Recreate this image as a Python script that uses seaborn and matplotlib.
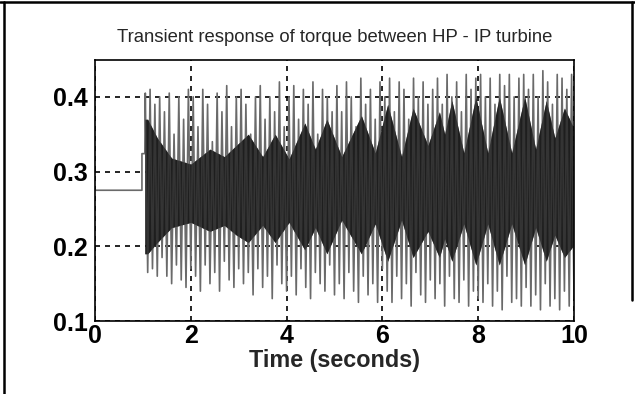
import numpy as np
import matplotlib
matplotlib.use("Agg")
import matplotlib.pyplot as plt
import seaborn as sns
from matplotlib.lines import Line2D

# ---------------- data ----------------
# steady state before the disturbance
pre_t = [0.0, 0.98, 0.98, 1.04]
pre_y = [0.275, 0.275, 0.324, 0.324]

# dense dark band (inner envelope of the fast oscillation)
band_t = [1.04, 1.10, 1.30, 1.60, 2.00, 2.40, 2.70, 2.95, 3.20, 3.50, 3.76, 4.05,
          4.38, 4.60, 4.84, 5.15, 5.56, 5.85, 6.11, 6.40, 6.64, 6.95, 7.19, 7.30,
          7.45, 7.70, 7.95, 8.20, 8.44, 8.70, 8.97, 9.20, 9.42, 9.60, 9.80, 9.98]
band_hi = [0.37, 0.37, 0.345, 0.318, 0.31, 0.33, 0.32, 0.335, 0.35, 0.32, 0.35, 0.317,
           0.365, 0.33, 0.37, 0.32, 0.375, 0.325, 0.39, 0.32, 0.385, 0.335, 0.38, 0.35,
           0.395, 0.325, 0.40, 0.325, 0.40, 0.325, 0.40, 0.33, 0.395, 0.345, 0.385, 0.36]
band_lo = [0.19, 0.19, 0.205, 0.225, 0.232, 0.22, 0.228, 0.215, 0.205, 0.228, 0.205, 0.232,
           0.195, 0.225, 0.19, 0.235, 0.19, 0.23, 0.18, 0.235, 0.185, 0.22, 0.185, 0.21,
           0.18, 0.23, 0.175, 0.23, 0.175, 0.23, 0.175, 0.225, 0.18, 0.215, 0.185, 0.20]

# individual spikes: upper peaks and lower troughs (about ten per second)
peak_hi = [0.405, 0.41, 0.39, 0.40, 0.38, 0.405, 0.35, 0.40, 0.37, 0.41,
           0.40, 0.36, 0.41, 0.39, 0.34, 0.405, 0.38, 0.415, 0.36, 0.40,
           0.41, 0.39, 0.35, 0.40, 0.415, 0.37, 0.40, 0.38, 0.42, 0.36,
           0.40, 0.415, 0.37, 0.41, 0.39, 0.42, 0.35, 0.41, 0.40, 0.38,
           0.415, 0.38, 0.42, 0.40, 0.36, 0.425, 0.39, 0.41, 0.37, 0.42,
           0.40, 0.425, 0.38, 0.42, 0.41, 0.37, 0.425, 0.40, 0.42, 0.39,
           0.41, 0.425, 0.39, 0.43, 0.40, 0.42, 0.38, 0.43, 0.41, 0.425,
           0.43, 0.40, 0.425, 0.39, 0.43, 0.415, 0.43, 0.40, 0.425, 0.43,
           0.41, 0.43, 0.40, 0.435, 0.42, 0.39, 0.43, 0.425, 0.41, 0.43]
peak_lo = [0.165, 0.17, 0.16, 0.185, 0.16, 0.15, 0.175, 0.155, 0.145, 0.17,
           0.16, 0.14, 0.175, 0.15, 0.165, 0.14, 0.18, 0.155, 0.145, 0.17,
           0.15, 0.165, 0.135, 0.17, 0.145, 0.16, 0.13, 0.175, 0.15, 0.14,
           0.16, 0.135, 0.17, 0.145, 0.13, 0.165, 0.15, 0.14, 0.175, 0.135,
           0.15, 0.13, 0.165, 0.14, 0.125, 0.16, 0.135, 0.15, 0.125, 0.17,
           0.14, 0.125, 0.16, 0.13, 0.15, 0.12, 0.165, 0.135, 0.125, 0.155,
           0.13, 0.15, 0.12, 0.16, 0.13, 0.125, 0.155, 0.12, 0.14, 0.13,
           0.125, 0.15, 0.12, 0.14, 0.115, 0.16, 0.125, 0.13, 0.12, 0.145,
           0.12, 0.135, 0.115, 0.15, 0.12, 0.13, 0.115, 0.14, 0.12, 0.13]

x_ticks = [0, 2, 4, 6, 8, 10]
y_ticks = [0.1, 0.2, 0.3, 0.4]
title = "Transient response of torque between HP - IP turbine"
xlabel = "Time (seconds)"

# ---------------- build the series ----------------
n = len(peak_hi)
t_hi = np.linspace(1.05, 9.95, n)
dt = (t_hi[1] - t_hi[0]) / 2.0
t_lo = t_hi + dt
zz_t = np.empty(2 * n)
zz_y = np.empty(2 * n)
zz_t[0::2] = t_hi
zz_t[1::2] = t_lo
zz_y[0::2] = peak_hi
zz_y[1::2] = peak_lo

sig_t = np.concatenate([pre_t, zz_t])
sig_y = np.concatenate([pre_y, zz_y])

# ---------------- plot ----------------
sns.set_style("white")
plt.rcParams['font.family'] = ['Liberation Sans', 'DejaVu Sans']

fig = plt.figure(figsize=(6.35, 3.94), dpi=100)
ax = fig.add_axes([95 / 635, 1 - 321 / 394, (574 - 95) / 635, (321 - 59.5) / 394])

ax.fill_between(band_t, band_lo, band_hi, color="#1e1e1e", lw=0, zorder=2)
sns.lineplot(x=sig_t, y=sig_y, sort=False, estimator=None, ax=ax,
             color="#6a6a6a", lw=1.2, zorder=3)
ax.fill_between(band_t, band_lo, band_hi, color="#1e1e1e", lw=0, alpha=0.7, zorder=4)

ax.set_xlim(0, 10)
ax.set_ylim(0.1, 0.45)
ax.set_xticks(x_ticks)
ax.set_yticks(y_ticks)
ax.set_xticklabels([str(v) for v in x_ticks])
ax.set_yticklabels([f"{v:.1f}" for v in y_ticks])
ax.tick_params(length=0, labelsize=18, colors="black")
ax.tick_params(axis="y", pad=5)
ax.tick_params(axis="x", pad=2)
for lab in ax.get_xticklabels() + ax.get_yticklabels():
    lab.set_fontweight("bold")

ax.grid(True, color="black", linestyle=(0, (3, 3)), lw=1.2, zorder=1)
ax.set_axisbelow(True)
for s in ax.spines.values():
    s.set_color("black")
    s.set_linewidth(1.2)
    s.set_zorder(6)

ax.set_xlabel(xlabel, fontsize=16.8, fontweight="bold", labelpad=1)
ax.set_ylabel("")
fig.text(334.5 / 635, 1 - 38 / 394, title, ha="center", va="center", fontsize=13.3)

# outer frame of the screenshot
fig.add_artist(Line2D([0, 1], [1 - 2 / 394, 1 - 2 / 394], color="black", lw=1.8,
                      transform=fig.transFigure))
fig.add_artist(Line2D([4 / 635, 4 / 635], [0, 1 - 2 / 394], color="black", lw=1.8,
                      transform=fig.transFigure))
fig.add_artist(Line2D([632 / 635, 632 / 635], [1 - 300 / 394, 1 - 2 / 394], color="black",
                      lw=1.8, transform=fig.transFigure))

fig.savefig("out.png", dpi=100)
